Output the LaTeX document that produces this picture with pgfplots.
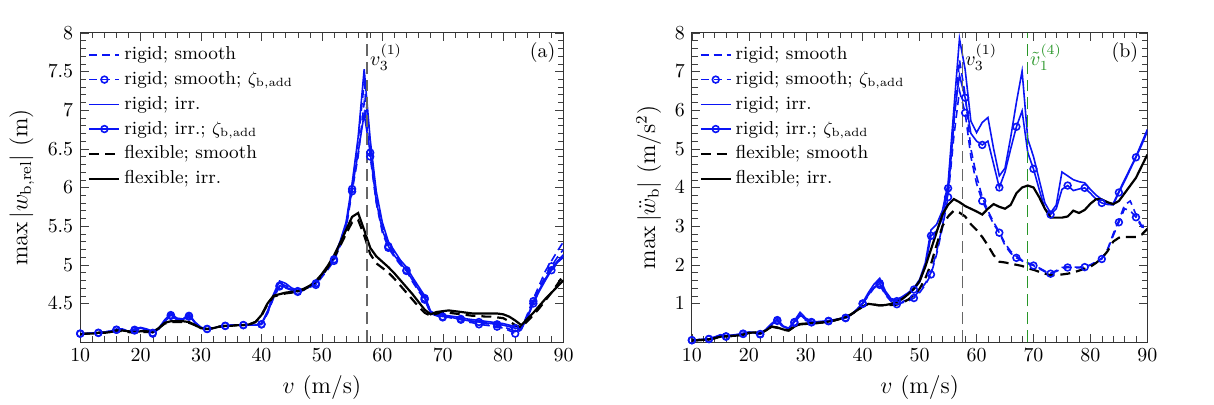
\documentclass[border=0pt]{standalone}
\usepackage{pgfplots}
\pgfplotsset{compat=1.18}
\usepackage{pgfplotstable}
\definecolor{mygreen}{RGB}{40,150,40}
\definecolor{myblue}{RGB}{10,20,245}
\begin{document}
% panel (a), values x 1e-3 m
\pgfplotstableread{
v ri riz rs rsz fi fs
10 4.11 4.11 4.11 4.11 4.10 4.10
11 4.11 4.11 4.11 4.11 4.11 4.11
12 4.12 4.12 4.12 4.12 4.11 4.11
13 4.12 4.12 4.12 4.12 4.12 4.12
14 4.13 4.13 4.13 4.13 4.12 4.12
15 4.14 4.14 4.14 4.14 4.13 4.13
16 4.17 4.16 4.17 4.16 4.15 4.15
17 4.16 4.16 4.17 4.16 4.15 4.14
18 4.14 4.14 4.14 4.13 4.14 4.13
19 4.17 4.16 4.16 4.15 4.13 4.12
20 4.19 4.18 4.18 4.17 4.14 4.13
21 4.17 4.16 4.16 4.15 4.14 4.13
22 4.14 4.12 4.13 4.11 4.13 4.13
23 4.18 4.17 4.18 4.17 4.18 4.18
24 4.29 4.27 4.28 4.27 4.25 4.24
25 4.37 4.35 4.36 4.34 4.27 4.26
26 4.31 4.30 4.30 4.29 4.27 4.26
27 4.30 4.29 4.29 4.28 4.27 4.26
28 4.36 4.34 4.35 4.33 4.26 4.25
29 4.26 4.25 4.25 4.24 4.22 4.22
30 4.19 4.19 4.19 4.19 4.18 4.18
31 4.17 4.17 4.17 4.17 4.17 4.17
32 4.18 4.18 4.18 4.18 4.18 4.18
33 4.20 4.20 4.20 4.20 4.20 4.20
34 4.21 4.21 4.21 4.21 4.21 4.21
35 4.22 4.22 4.22 4.22 4.21 4.21
36 4.22 4.22 4.22 4.22 4.22 4.22
37 4.22 4.22 4.22 4.22 4.22 4.22
38 4.22 4.22 4.22 4.22 4.23 4.23
39 4.22 4.22 4.22 4.22 4.26 4.26
40 4.24 4.23 4.24 4.23 4.35 4.34
41 4.40 4.38 4.39 4.37 4.50 4.49
42 4.62 4.58 4.60 4.57 4.60 4.59
43 4.79 4.73 4.76 4.72 4.62 4.61
44 4.76 4.71 4.73 4.70 4.64 4.63
45 4.70 4.68 4.69 4.67 4.65 4.64
46 4.67 4.66 4.66 4.65 4.66 4.65
47 4.69 4.68 4.68 4.67 4.69 4.68
48 4.73 4.72 4.72 4.71 4.73 4.72
49 4.78 4.76 4.76 4.74 4.79 4.78
50 4.88 4.86 4.86 4.84 4.88 4.86
51 4.98 4.96 4.96 4.94 4.99 4.97
52 5.10 5.07 5.08 5.05 5.12 5.09
53 5.30 5.26 5.28 5.24 5.28 5.24
54 5.55 5.50 5.52 5.46 5.45 5.40
55 6.05 5.98 6.02 5.95 5.62 5.55
56 6.65 6.45 6.60 6.40 5.67 5.58
57 7.53 6.95 7.35 7.10 5.45 5.38
58 6.62 6.45 6.55 6.40 5.22 5.14
59 5.95 5.82 5.90 5.80 5.11 5.02
60 5.55 5.45 5.50 5.42 5.04 4.96
61 5.30 5.24 5.28 5.22 4.97 4.90
62 5.18 5.12 5.15 5.10 4.89 4.82
63 5.06 5.02 5.04 5.00 4.80 4.73
64 4.97 4.93 4.95 4.92 4.71 4.64
65 4.84 4.80 4.82 4.78 4.62 4.55
66 4.72 4.68 4.70 4.66 4.52 4.46
67 4.60 4.57 4.58 4.55 4.42 4.38
68 4.40 4.38 4.39 4.37 4.36 4.34
69 4.36 4.35 4.35 4.34 4.39 4.37
70 4.35 4.33 4.34 4.32 4.40 4.38
71 4.34 4.33 4.33 4.32 4.41 4.38
72 4.33 4.31 4.32 4.30 4.40 4.37
73 4.32 4.30 4.31 4.29 4.39 4.36
74 4.30 4.28 4.28 4.26 4.38 4.35
75 4.29 4.27 4.27 4.25 4.37 4.34
76 4.28 4.26 4.25 4.23 4.37 4.34
77 4.27 4.25 4.24 4.22 4.37 4.33
78 4.26 4.24 4.23 4.21 4.37 4.33
79 4.25 4.23 4.22 4.20 4.37 4.32
80 4.24 4.22 4.20 4.18 4.36 4.31
81 4.22 4.20 4.17 4.15 4.33 4.27
82 4.20 4.18 4.14 4.11 4.28 4.22
83 4.19 4.17 4.17 4.16 4.22 4.19
84 4.33 4.31 4.36 4.34 4.30 4.27
85 4.52 4.50 4.56 4.53 4.38 4.35
86 4.68 4.66 4.74 4.70 4.47 4.44
87 4.82 4.80 4.92 4.86 4.56 4.54
88 4.95 4.93 5.05 4.98 4.64 4.64
89 5.05 5.03 5.18 5.10 4.72 4.75
90 5.13 5.10 5.30 5.20 4.80 4.87
}\tabA
% panel (b), m/s^2
\pgfplotstableread{
v ri riz rs rsz fi fs
10 0.05 0.05 0.05 0.05 0.04 0.04
11 0.06 0.06 0.06 0.06 0.05 0.05
12 0.07 0.07 0.07 0.07 0.06 0.06
13 0.08 0.08 0.08 0.08 0.07 0.07
14 0.13 0.13 0.12 0.12 0.10 0.10
15 0.19 0.18 0.18 0.17 0.14 0.14
16 0.16 0.15 0.15 0.14 0.15 0.15
17 0.18 0.17 0.17 0.16 0.16 0.16
18 0.20 0.19 0.19 0.18 0.17 0.17
19 0.23 0.22 0.22 0.21 0.19 0.19
20 0.26 0.25 0.25 0.24 0.24 0.24
21 0.25 0.24 0.24 0.23 0.25 0.25
22 0.22 0.21 0.21 0.20 0.23 0.23
23 0.33 0.31 0.32 0.30 0.30 0.30
24 0.48 0.45 0.47 0.44 0.40 0.40
25 0.60 0.57 0.58 0.55 0.38 0.37
26 0.42 0.40 0.41 0.39 0.33 0.32
27 0.36 0.35 0.35 0.34 0.30 0.30
28 0.55 0.52 0.53 0.50 0.40 0.40
29 0.77 0.71 0.74 0.68 0.47 0.46
30 0.62 0.58 0.60 0.56 0.48 0.47
31 0.54 0.52 0.53 0.51 0.49 0.48
32 0.53 0.52 0.52 0.51 0.50 0.49
33 0.54 0.53 0.53 0.52 0.51 0.51
34 0.56 0.55 0.55 0.54 0.53 0.53
35 0.58 0.57 0.57 0.56 0.56 0.56
36 0.61 0.60 0.60 0.59 0.60 0.60
37 0.64 0.63 0.63 0.62 0.65 0.65
38 0.72 0.71 0.71 0.70 0.72 0.72
39 0.85 0.84 0.84 0.83 0.82 0.82
40 1.02 1.00 1.01 0.99 0.92 0.92
41 1.28 1.22 1.25 1.20 0.99 0.99
42 1.50 1.42 1.46 1.40 0.97 0.97
43 1.65 1.52 1.58 1.48 0.95 0.95
44 1.32 1.25 1.28 1.22 0.96 0.95
45 1.12 1.08 1.10 1.05 0.99 0.96
46 1.10 1.06 1.02 0.98 1.04 0.97
47 1.18 1.15 1.05 1.02 1.12 1.02
48 1.28 1.25 1.10 1.06 1.24 1.10
49 1.40 1.36 1.18 1.14 1.38 1.22
50 1.62 1.55 1.32 1.28 1.58 1.38
51 2.05 1.95 1.52 1.48 1.95 1.65
52 2.90 2.75 1.80 1.75 2.40 2.02
53 3.05 2.88 2.35 2.28 2.85 2.52
54 3.40 3.20 3.00 2.95 3.30 3.00
55 4.10 3.98 3.85 3.75 3.55 3.25
56 6.00 5.80 5.60 5.30 3.70 3.40
57 7.85 6.90 7.30 6.50 3.62 3.35
58 7.05 6.32 6.40 5.93 3.52 3.25
59 5.72 5.40 5.00 4.80 3.45 3.05
60 5.42 5.20 4.30 4.10 3.38 2.90
61 5.68 5.10 3.75 3.65 3.30 2.72
62 5.81 5.20 3.40 3.35 3.45 2.50
63 5.00 4.60 3.10 3.05 3.57 2.25
64 4.30 4.00 2.85 2.83 3.50 2.08
65 4.50 4.40 2.55 2.50 3.45 2.06
66 5.30 5.00 2.35 2.30 3.55 2.03
67 6.20 5.57 2.22 2.18 3.85 2.00
68 7.01 5.98 2.12 2.10 4.00 1.97
69 5.25 4.90 2.05 2.03 4.05 1.91
70 4.80 4.48 2.00 1.98 4.00 1.87
71 4.20 3.95 1.92 1.90 3.75 1.82
72 3.60 3.45 1.84 1.82 3.45 1.77
73 3.34 3.30 1.78 1.77 3.22 1.73
74 3.55 3.45 1.85 1.83 3.22 1.74
75 4.40 3.95 1.93 1.90 3.22 1.75
76 4.30 4.05 1.95 1.93 3.25 1.77
77 4.20 3.92 1.94 1.92 3.40 1.80
78 4.15 3.96 1.94 1.92 3.34 1.85
79 4.12 3.99 1.95 1.94 3.42 1.90
80 3.95 3.85 2.00 1.99 3.58 1.95
81 3.80 3.70 2.08 2.06 3.70 2.05
82 3.69 3.60 2.17 2.15 3.69 2.17
83 3.60 3.56 2.40 2.38 3.62 2.35
84 3.58 3.55 2.80 2.75 3.57 2.60
85 3.90 3.87 3.15 3.10 3.65 2.70
86 4.20 4.16 3.55 3.45 3.85 2.72
87 4.50 4.47 3.65 3.40 4.05 2.72
88 4.80 4.78 3.30 3.23 4.25 2.72
89 5.15 5.10 3.00 2.98 4.55 2.78
90 5.50 5.45 3.10 2.95 4.85 2.93
}\tabB
\pgfplotsset{
  myaxis/.style={
    scale only axis, height=155.5pt,
    xmin=10, xmax=90, xtick={10,20,...,90},
    minor x tick num=4, minor y tick num=4,
    tick style={color=black!75},
    axis line style={black!80},
    xlabel={$v$ (m/s)},
    label style={font=\large},
    legend style={draw=none, fill=none, at={(0.012,0.975)}, anchor=north west,
      cells={anchor=west}, font=\fontsize{9.4}{11}\selectfont, inner sep=1pt, row sep=0.4pt},
    legend image code/.code={\draw[mark repeat=2,mark phase=2,##1] plot coordinates {(0pt,0pt) (7.5pt,0pt) (15pt,0pt)};},
  },
  brs/.style={myblue, line width=0.8pt, dash pattern=on 4pt off 2.5pt, mark=none},
  brsz/.style={myblue, line width=0.8pt, dash pattern=on 4pt off 2.5pt, mark=o, mark repeat=3, mark size=1.7pt, mark options={solid}},
  bri/.style={myblue, line width=0.8pt, mark=none},
  briz/.style={myblue, line width=0.8pt, mark=o, mark repeat=3, mark size=1.7pt, mark options={solid}},
  kfs/.style={black, line width=1.1pt, dash pattern=on 5pt off 3pt, mark=none},
  kfi/.style={black, line width=1.1pt, mark=none},
  vline/.style={line width=0.8pt, dash pattern=on 6pt off 3pt, mark=none, forget plot},
}
\begin{tikzpicture}
\begin{axis}[myaxis, width=243pt, ymin=4.0, ymax=8, ytick={4.5,5,...,8},
  ylabel={$\max|w_{\mathrm{b,rel}}|$ (m)}]
\addplot[brs] table[x=v,y=rs] {\tabA};
\addlegendentry{rigid; smooth}
\addplot[brsz] table[x=v,y=rsz] {\tabA};
\addlegendentry{rigid; smooth; {\small$\zeta_{\mathrm{b,add}}$}}
\addplot[bri] table[x=v,y=ri] {\tabA};
\addlegendentry{rigid; irr.}
\addplot[briz] table[x=v,y=riz] {\tabA};
\addlegendentry{rigid; irr.; {\small$\zeta_{\mathrm{b,add}}$}}
\addplot[kfs] table[x=v,y=fs] {\tabA};
\addlegendentry{flexible; smooth}
\addplot[kfi] table[x=v,y=fi] {\tabA};
\addlegendentry{flexible; irr.}
\addplot[vline, black!60] coordinates {(57.5,4.0) (57.5,8)};
\node[anchor=west, inner sep=1pt] at (axis cs:57.6,7.68) {$v_3^{(1)}$};
\node[anchor=east, inner sep=1pt] at (rel axis cs:0.988,0.935) {(a)};
\node[anchor=south west, inner sep=0pt, font=\large] at (rel axis cs:0,1.015) {$\times 10^{-3}$};
\end{axis}
\begin{axis}[myaxis, at={(307.5pt,0pt)}, width=229pt, ymin=0, ymax=8, ytick={1,2,...,8},
  ylabel={$\max|\ddot{w}_{\mathrm{b}}|$ (m/s$^2$)}]
\addplot[brs] table[x=v,y=rs] {\tabB};
\addlegendentry{rigid; smooth}
\addplot[brsz] table[x=v,y=rsz] {\tabB};
\addlegendentry{rigid; smooth; {\small$\zeta_{\mathrm{b,add}}$}}
\addplot[bri] table[x=v,y=ri] {\tabB};
\addlegendentry{rigid; irr.}
\addplot[briz] table[x=v,y=riz] {\tabB};
\addlegendentry{rigid; irr.; {\small$\zeta_{\mathrm{b,add}}$}}
\addplot[kfs] table[x=v,y=fs] {\tabB};
\addlegendentry{flexible; smooth}
\addplot[kfi] table[x=v,y=fi] {\tabB};
\addlegendentry{flexible; irr.}
\addplot[vline, black!60] coordinates {(57.5,0) (57.5,8)};
\addplot[vline, mygreen, line width=0.55pt] coordinates {(68.9,0) (68.9,8)};
\node[anchor=west, inner sep=1pt] at (axis cs:57.6,7.36) {$v_3^{(1)}$};
\node[anchor=west, inner sep=1pt, text=mygreen] at (axis cs:69.0,7.36) {$\tilde{v}_1^{(4)}$};
\node[anchor=east, inner sep=1pt] at (rel axis cs:0.985,0.935) {(b)};
\end{axis}
\pgfresetboundingbox
\path (-37pt,-31.5pt) rectangle (570pt,172pt);
\end{tikzpicture}
\end{document}
